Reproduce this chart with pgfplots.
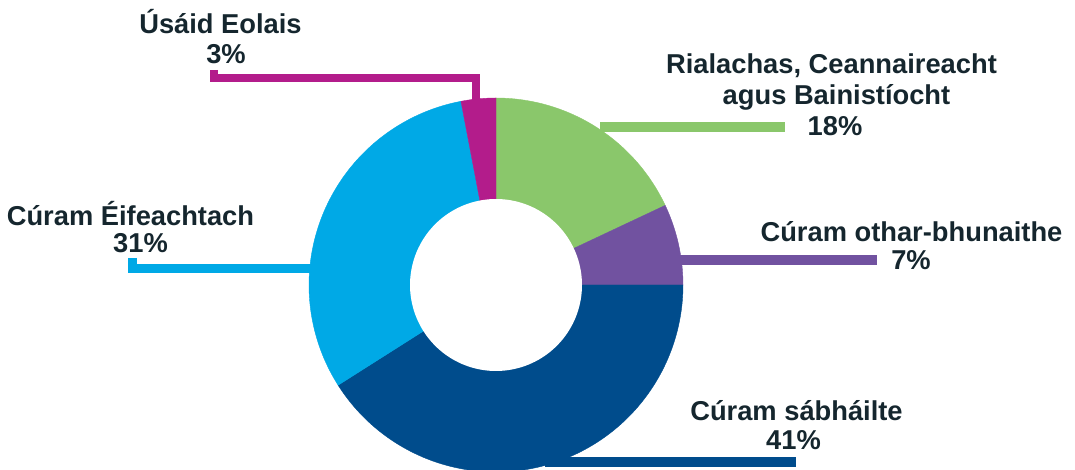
\documentclass[border=0pt]{standalone}
\usepackage{pgfplots}
\pgfplotsset{compat=1.18}
\usepackage{fontspec}
\setmainfont{Liberation Sans}
\definecolor{cgreen}{HTML}{8AC76B}
\definecolor{cpurple}{HTML}{7152A0}
\definecolor{cdblue}{HTML}{004C8C}
\definecolor{clblue}{HTML}{00A9E6}
\definecolor{cmag}{HTML}{B31C8B}
\definecolor{ctext}{HTML}{15262E}
\tikzset{lab/.style={inner sep=0pt,anchor=base,text=ctext,
    font=\fontsize{27.3bp}{32bp}\selectfont\bfseries}}
\begin{document}
\begin{tikzpicture}
% shares in percent (clockwise from 12 o'clock)
\def\pGov{18}\def\pPat{7}\def\pSafe{41}\def\pEff{31}\def\pInfo{3}
\pgfmathsetmacro{\aA}{90}
\pgfmathsetmacro{\aB}{\aA-3.6*\pGov}
\pgfmathsetmacro{\aC}{\aB-3.6*\pPat}
\pgfmathsetmacro{\aD}{\aC-3.6*\pSafe}
\pgfmathsetmacro{\aE}{\aD-3.6*\pEff}
\pgfmathsetmacro{\aF}{\aE-3.6*\pInfo}
\def\R{187}\def\r{86}\def\cx{496}\def\cy{-285}
\begin{axis}[width=1075bp,height=470bp,scale only axis,
  xmin=0,xmax=1075,ymin=-470,ymax=0,hide axis,clip=true]
% leader lines
\draw[cgreen,line width=9.4bp] (600,-127.2) -- (785,-127.2);
\draw[cpurple,line width=10bp] (670,-260) -- (877,-260);
\draw[cdblue,line width=10bp] (545,-462) -- (796,-462);
\draw[clblue,line width=9bp,line join=miter] (132.5,-258) -- (132.5,-268.5) -- (315,-268.5);
\draw[cmag,line width=8bp,line join=miter] (213.8,-70) -- (213.8,-78) -- (476,-78) -- (476,-105);
% donut slices
\addplot[fill=cgreen,draw=cgreen,line width=0.4bp,domain=\aB:\aA,samples=80,variable=\t]
  ({\cx+\R*cos(\t)},{\cy+\R*sin(\t)}) -- (axis cs:\cx,\cy) -- cycle;
\addplot[fill=cpurple,draw=cpurple,line width=0.4bp,domain=\aC:\aB,samples=40,variable=\t]
  ({\cx+\R*cos(\t)},{\cy+\R*sin(\t)}) -- (axis cs:\cx,\cy) -- cycle;
\addplot[fill=cdblue,draw=cdblue,line width=0.4bp,domain=\aD:\aC,samples=150,variable=\t]
  ({\cx+\R*cos(\t)},{\cy+\R*sin(\t)}) -- (axis cs:\cx,\cy) -- cycle;
\addplot[fill=clblue,draw=clblue,line width=0.4bp,domain=\aE:\aD,samples=120,variable=\t]
  ({\cx+\R*cos(\t)},{\cy+\R*sin(\t)}) -- (axis cs:\cx,\cy) -- cycle;
\addplot[fill=cmag,draw=cmag,line width=0.4bp,domain=\aF:\aE,samples=20,variable=\t]
  ({\cx+\R*cos(\t)},{\cy+\R*sin(\t)}) -- (axis cs:\cx,\cy) -- cycle;
\addplot[fill=white,draw=none,domain=0:360,samples=150,variable=\t]
  ({\cx+\r*cos(\t)},{\cy+\r*sin(\t)}) -- cycle;
% labels
\node[lab] at (axis cs:220.5,-33.3) {Úsáid Eolais};
\node[lab] at (axis cs:226,-63.3) {3\%};
\node[lab] at (axis cs:831.5,-73.3) {Rialachas, Ceannaireacht};
\node[lab] at (axis cs:836.5,-105) {agus Bainistíocht};
\node[lab] at (axis cs:835,-136) {18\%};
\node[lab] at (axis cs:911.5,-242) {Cúram othar-bhunaithe};
\node[lab] at (axis cs:911,-270) {7\%};
\node[lab] at (axis cs:130.5,-226) {Cúram Éifeachtach};
\node[lab] at (axis cs:140.5,-253) {31\%};
\node[lab] at (axis cs:796.5,-421) {Cúram sábháilte};
\node[lab] at (axis cs:793.5,-450) {41\%};
\end{axis}
\pgfresetboundingbox
\path (current axis.south west) rectangle (current axis.north east);
\end{tikzpicture}
\end{document}
